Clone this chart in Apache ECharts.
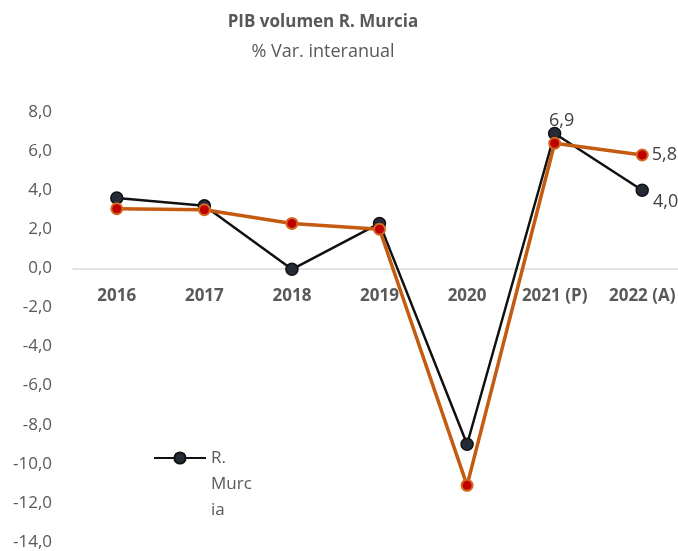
<!DOCTYPE html>
<html>
<head>
<meta charset="utf-8">
<script src="https://cdn.jsdelivr.net/npm/echarts@6/dist/echarts.min.js"></script>
<style>
  html, body { margin: 0; padding: 0; background: #fff; }
  #main { width: 678px; height: 551px; }
</style>
</head>
<body>
<div id="main"></div>
<script>
// categorias y valores
var years = ['2016', '2017', '2018', '2019', '2020', '2021 (P)', '2022 (A)'];
var murcia = [3.6, 3.2, -0.05, 2.3, -9.0, 6.9, 4.0];
var espana = [3.05, 3.0, 2.3, 2.0, -11.1, 6.4, 5.8];
var yTicks = [-14, -12, -10, -8, -6, -4, -2, 0, 2, 4, 6, 8];

var font = 'Open Sans';
var gris = '#595959';

var gridTop = 112, gridBottom = 9;
var plotH = 551 - gridTop - gridBottom;
var yMin = yTicks[0], yMax = yTicks[yTicks.length - 1];
// eje x colocado en el 0 (con etiquetas)
var zeroOffset = -plotH * (0 - yMin) / (yMax - yMin);

var myChart = echarts.init(document.getElementById('main'));

var fmt = function (v) { return v.toFixed(1).replace('.', ','); };

var option = {
    backgroundColor: '#fff',
    title: {
        text: 'PIB volumen R. Murcia',
        subtext: '% Var. interanual',
        left: 318,
        textAlign: 'center',
        top: 9,
        itemGap: 12,
        textStyle: { fontFamily: font, fontSize: 17, fontWeight: 'bold', color: gris },
        subtextStyle: { fontFamily: font, fontSize: 18, color: gris }
    },
    legend: {
        data: ['R. Murcia'],
        left: 148,
        top: 388,
        itemWidth: 52,
        itemHeight: 14,
        formatter: function () { return ' \n \nR.\nMurc\nia'; },
        textStyle: { fontFamily: font, fontSize: 17, color: gris, lineHeight: 26 }
    },
    grid: { left: 73, right: -8, top: gridTop, bottom: gridBottom, outerBoundsMode: 'none' },
    xAxis: {
        type: 'category',
        data: years,
        offset: zeroOffset,
        axisLine: { onZero: false, lineStyle: { color: '#d9d9d9', width: 1.5 } },
        axisTick: { show: false },
        axisLabel: {
            interval: 0, margin: 19,
            fontFamily: font, fontSize: 17, fontWeight: 'bold', color: gris
        }
    },
    yAxis: {
        type: 'value',
        min: yMin,
        max: yMax,
        interval: 2,
        splitLine: { show: false },
        axisLine: { show: false },
        axisTick: { show: false },
        axisLabel: {
            margin: 21,
            fontFamily: font, fontSize: 17, color: gris,
            formatter: fmt
        }
    },
    series: [
        {
            name: 'R. Murcia',
            type: 'line',
            data: murcia.map(function (v, i) {
                var d = { value: v };
                if (i === 5) d.label = { show: true, position: 'top', distance: 1, offset: [7, 4] };
                if (i === 6) d.label = { show: true, position: 'right', distance: 4, offset: [0, 12] };
                return d;
            }),
            symbol: 'circle',
            symbolSize: 12,
            lineStyle: { color: '#111', width: 2.5 },
            itemStyle: { color: '#252b36', borderColor: '#111', borderWidth: 1.5 },
            label: {
                fontFamily: font, fontSize: 18, color: '#404040',
                formatter: function (p) { return fmt(p.value); }
            }
        },
        {
            name: 'España',
            type: 'line',
            data: espana.map(function (v, i) {
                var d = { value: v };
                if (i === 6) d.label = { show: true, position: 'right', distance: 3 };
                return d;
            }),
            symbol: 'circle',
            symbolSize: 11,
            lineStyle: { color: '#c55a11', width: 3.5 },
            itemStyle: { color: '#c00000', borderColor: '#d2691e', borderWidth: 2 },
            label: {
                fontFamily: font, fontSize: 18, color: '#404040',
                formatter: function (p) { return fmt(p.value); }
            }
        }
    ]
};

myChart.setOption(option);
</script>
</body>
</html>
